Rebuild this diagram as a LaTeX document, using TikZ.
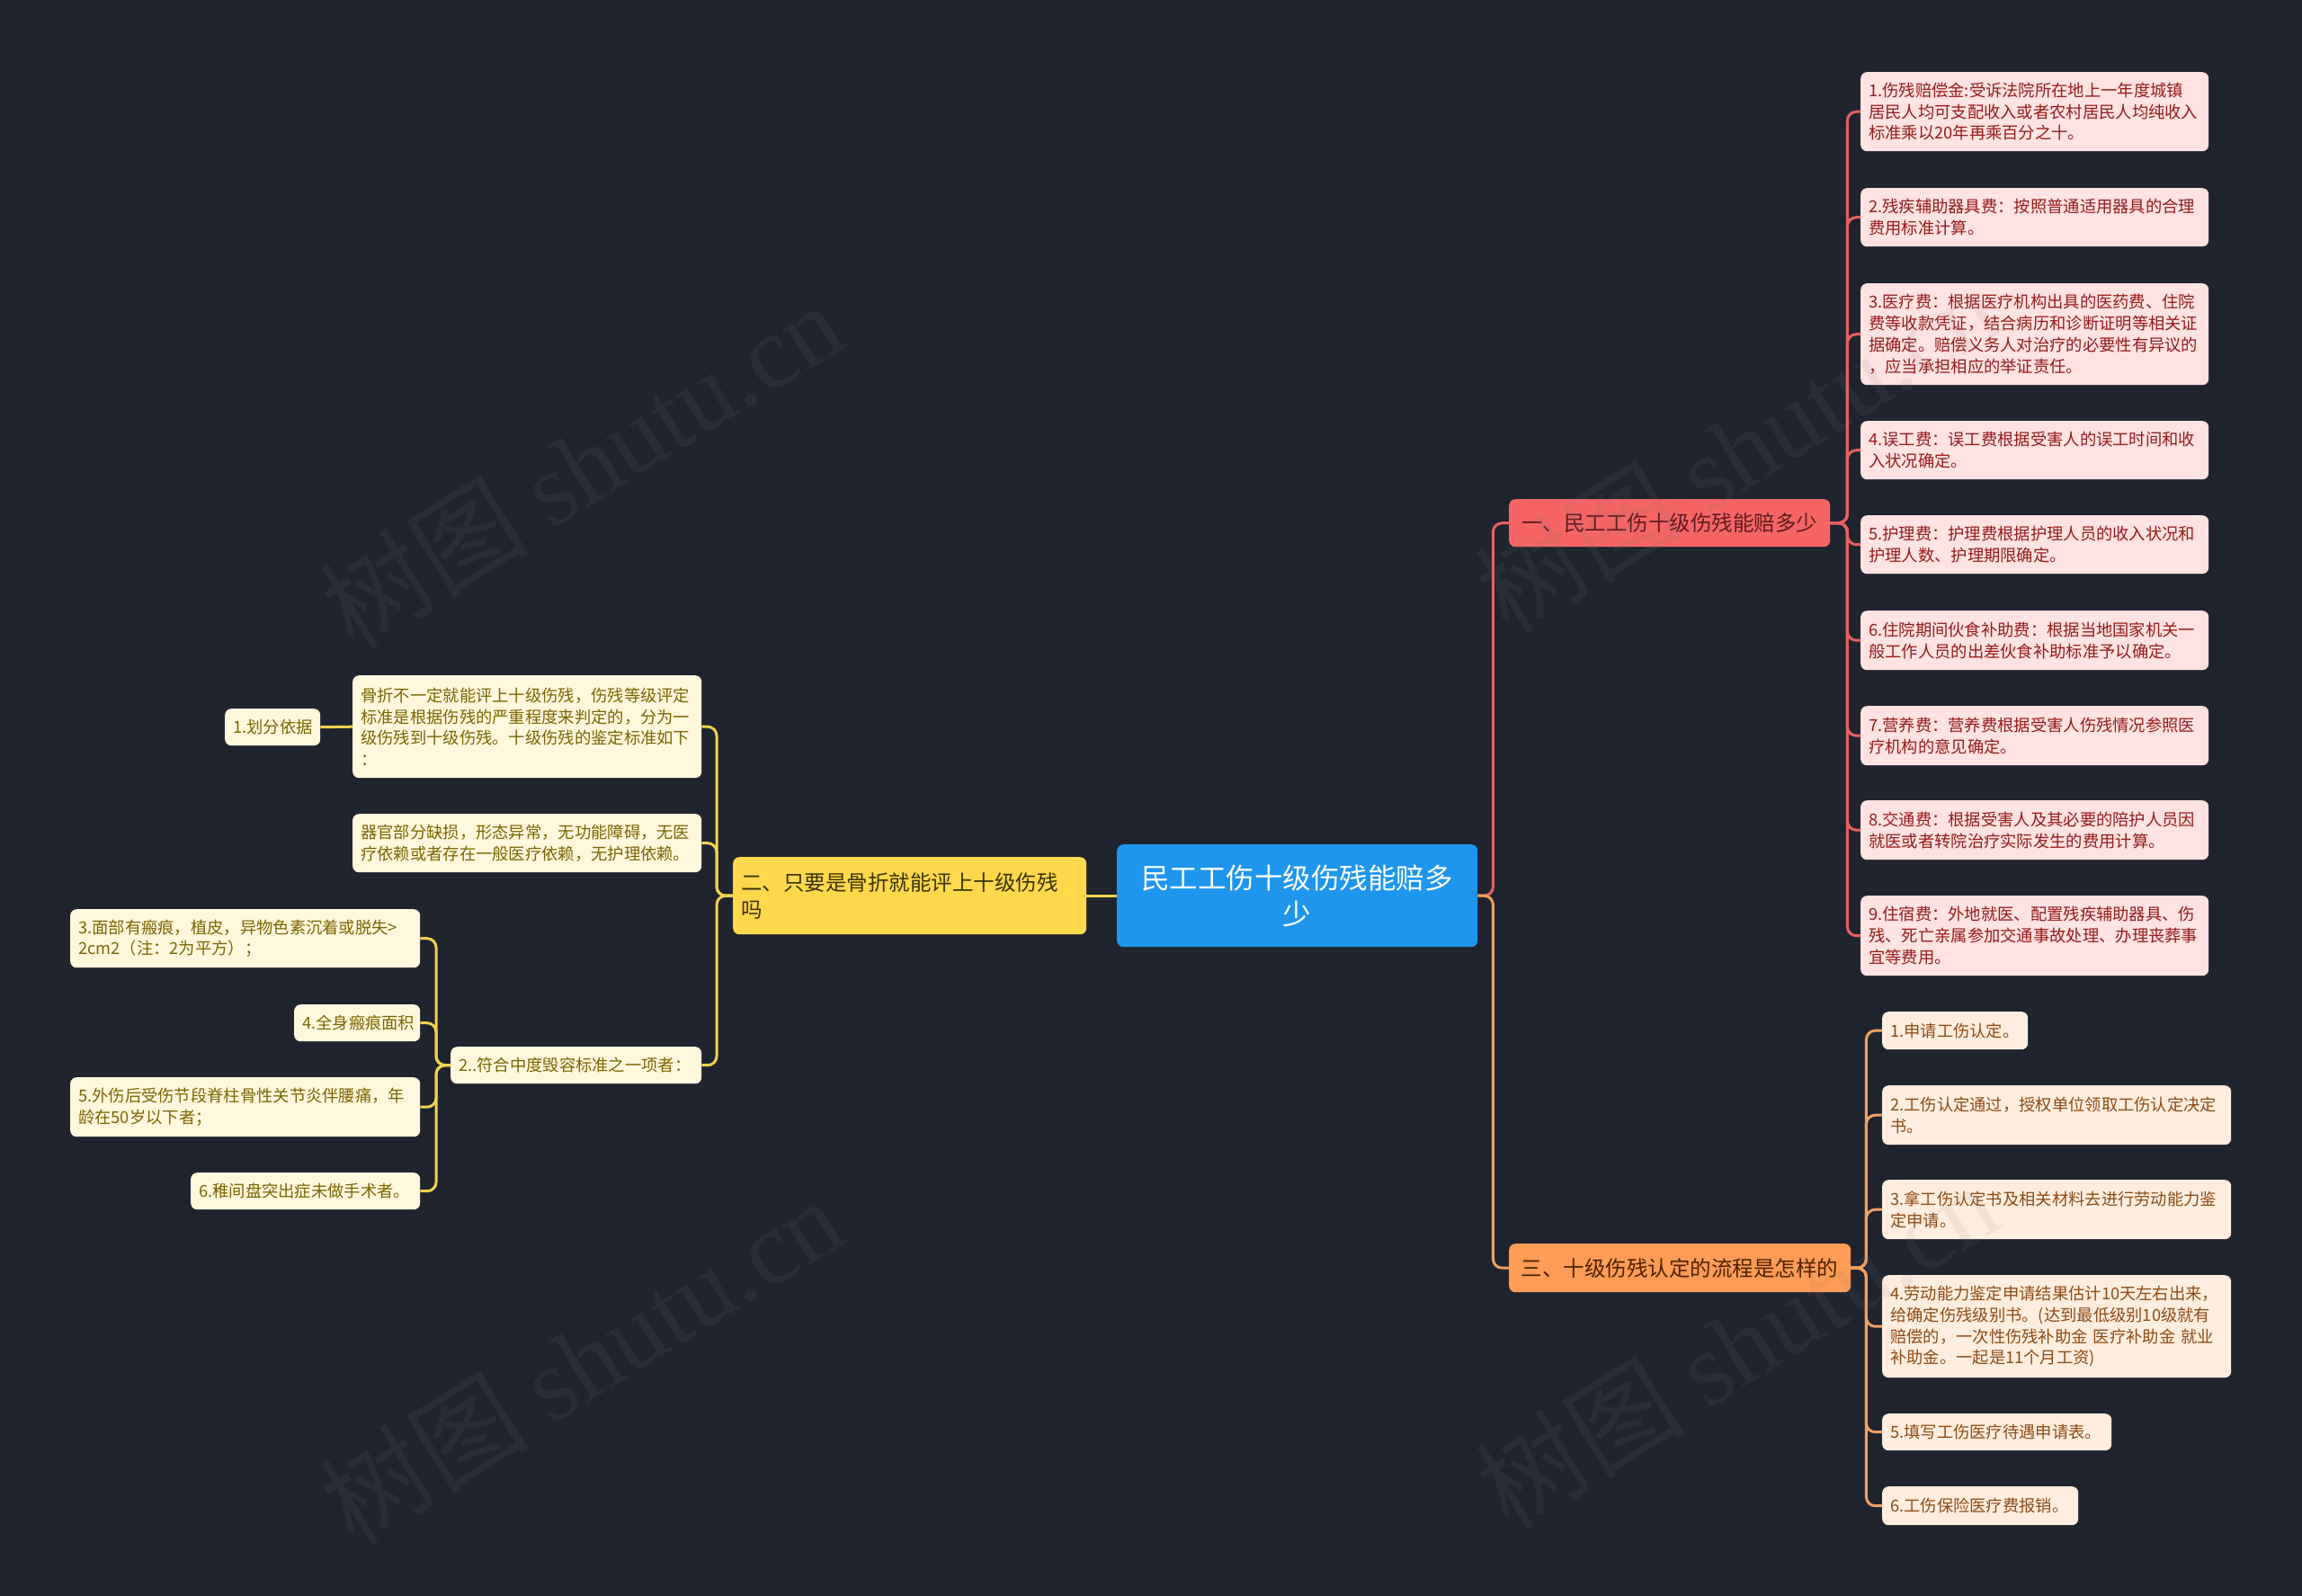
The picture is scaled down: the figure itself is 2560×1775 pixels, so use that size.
\documentclass[tikz,border=0pt]{standalone}
\usepackage{fontspec}
\setmainfont{Noto Sans CJK SC}
\newfontfamily\wmfont{Liberation Serif}
\definecolor{bg}{HTML}{20242F}
\definecolor{rootfill}{HTML}{1E96EE}
\definecolor{bonefill}{HTML}{F66464}
\definecolor{bonetext}{HTML}{5E1B1B}
\definecolor{btwofill}{HTML}{FFD84C}
\definecolor{btwotext}{HTML}{3B3300}
\definecolor{bthreefill}{HTML}{FF9C55}
\definecolor{bthreetext}{HTML}{4A2300}
\definecolor{rleaffill}{HTML}{FFE2E2}
\definecolor{rleaftext}{HTML}{951B1B}
\definecolor{oleaffill}{HTML}{FFEEDF}
\definecolor{oleaftext}{HTML}{8E4A14}
\definecolor{yleaffill}{HTML}{FFF8DC}
\definecolor{yleaftext}{HTML}{7A6500}
\definecolor{rcol}{HTML}{E86060}
\definecolor{ocol}{HTML}{F0A060}
\definecolor{ycol}{HTML}{F2D34E}
\tikzset{
  box/.style={rounded corners=7pt, inner xsep=9pt, inner ysep=0pt, anchor=north west, align=left},
  leaffont/.style={font=\fontsize{18.3}{23.7}\selectfont},
  rleaf/.style={box, leaffont, fill=rleaffill, text=rleaftext},
  oleaf/.style={box, leaffont, fill=oleaffill, text=oleaftext},
  yleaf/.style={box, leaffont, fill=yleaffill, text=yleaftext},
  branchfont/.style={font=\fontsize{23.5}{30}\selectfont},
  rline/.style={draw=rcol, line width=3pt, rounded corners=10pt},
  oline/.style={draw=ocol, line width=3pt, rounded corners=10pt},
  yline/.style={draw=ycol, line width=3pt, rounded corners=10pt},
  wmark/.style={text=gray, opacity=0.1, rotate=31.7, font=\fontsize{116}{120}\selectfont}
}
\begin{document}
\begin{tikzpicture}[x=1pt,y=-1pt]
\useasboundingbox (0,0) rectangle (2560,1775);
\fill[bg] (0,0) rectangle (2560,1775);

% root and branches
\node[box, fill=rootfill, text=white, align=center, text width=383pt, minimum height=114pt,
  font=\fontsize{31.5}{40}\selectfont] (root) at (1242,939) {民工工伤十级伤残能赔多\\少};
\node[box, branchfont, fill=bonefill, text=bonetext, align=center, text width=339pt, minimum height=53pt] (b1) at (1678,555) {一、民工工伤十级伤残能赔多少};
\node[box, branchfont, fill=btwofill, text=btwotext, text width=375pt, minimum height=86pt] (b2) at (815,953) {二、只要是骨折就能评上十级伤残\\吗};
\node[box, branchfont, fill=bthreefill, text=bthreetext, align=center, text width=362pt, minimum height=54pt] (b3) at (1678,1383) {三、十级伤残认定的流程是怎样的};

% red leaves
\node[rleaf, text width=369pt, minimum height=88pt] (r1) at (2069,80) {1.伤残赔偿金:受诉法院所在地上一年度城镇\\居民人均可支配收入或者农村居民人均纯收入\\标准乘以20年再乘百分之十。};
\node[rleaf, text width=369pt, minimum height=65pt] (r2) at (2069,209) {2.残疾辅助器具费：按照普通适用器具的合理\\费用标准计算。};
\node[rleaf, text width=369pt, minimum height=113pt] (r3) at (2069,315) {3.医疗费：根据医疗机构出具的医药费、住院\\费等收款凭证，结合病历和诊断证明等相关证\\据确定。赔偿义务人对治疗的必要性有异议的\\，应当承担相应的举证责任。};
\node[rleaf, text width=369pt, minimum height=65pt] (r4) at (2069,468) {4.误工费：误工费根据受害人的误工时间和收\\入状况确定。};
\node[rleaf, text width=369pt, minimum height=65pt] (r5) at (2069,573) {5.护理费：护理费根据护理人员的收入状况和\\护理人数、护理期限确定。};
\node[rleaf, text width=369pt, minimum height=66pt] (r6) at (2069,679) {6.住院期间伙食补助费：根据当地国家机关一\\般工作人员的出差伙食补助标准予以确定。};
\node[rleaf, text width=369pt, minimum height=66pt] (r7) at (2069,785) {7.营养费：营养费根据受害人伤残情况参照医\\疗机构的意见确定。};
\node[rleaf, text width=369pt, minimum height=66pt] (r8) at (2069,890) {8.交通费：根据受害人及其必要的陪护人员因\\就医或者转院治疗实际发生的费用计算。};
\node[rleaf, text width=369pt, minimum height=89pt] (r9) at (2069,996) {9.住宿费：外地就医、配置残疾辅助器具、伤\\残、死亡亲属参加交通事故处理、办理丧葬事\\宜等费用。};

% orange leaves
\node[oleaf, text width=144pt, minimum height=42pt] (o1) at (2093,1125) {1.申请工伤认定。};
\node[oleaf, text width=370pt, minimum height=66pt] (o2) at (2093,1207) {2.工伤认定通过，授权单位领取工伤认定决定\\书。};
\node[oleaf, text width=370pt, minimum height=66pt] (o3) at (2093,1312) {3.拿工伤认定书及相关材料去进行劳动能力鉴\\定申请。};
\node[oleaf, text width=370pt, minimum height=114pt] (o4) at (2093,1418) {4.劳动能力鉴定申请结果估计10天左右出来，\\给确定伤残级别书。(达到最低级别10级就有\\赔偿的，一次性伤残补助金 医疗补助金 就业\\补助金。一起是11个月工资)};
\node[oleaf, text width=237pt, minimum height=41pt] (o5) at (2093,1572) {5.填写工伤医疗待遇申请表。};
\node[oleaf, text width=200pt, minimum height=43pt] (o6) at (2093,1653) {6.工伤保险医疗费报销。};

% yellow leaves
\node[yleaf, text width=370pt, minimum height=114pt] (ya) at (392,751) {骨折不一定就能评上十级伤残，伤残等级评定\\标准是根据伤残的严重程度来判定的，分为一\\级伤残到十级伤残。十级伤残的鉴定标准如下\\：};
\node[yleaf, text width=370pt, minimum height=65pt] (yb) at (392,905) {器官部分缺损，形态异常，无功能障碍，无医\\疗依赖或者存在一般医疗依赖，无护理依赖。};
\node[yleaf, text width=88pt, minimum height=41pt] (y1) at (250,788) {1.划分依据};
\node[yleaf, text width=261pt, minimum height=41pt] (y2) at (501,1164) {2..符合中度毁容标准之一项者：};
\node[yleaf, text width=371pt, minimum height=65pt] (y3) at (78,1011) {3.面部有瘢痕，植皮，异物色素沉着或脱失>\\2cm2（注：2为平方）；};
\node[yleaf, text width=122pt, minimum height=41pt] (y4) at (327,1117) {4.全身瘢痕面积};
\node[yleaf, text width=371pt, minimum height=66pt] (y5) at (78,1198) {5.外伤后受伤节段脊柱骨性关节炎伴腰痛，年\\龄在50岁以下者；};
\node[yleaf, text width=237pt, minimum height=41pt] (y6) at (212,1304) {6.稚间盘突出症未做手术者。};

% connectors
\draw[rline] (root.east) -- ++(17,0) |- (b1.west);
\draw[oline] (root.east) -- ++(17,0) |- (b3.west);
\draw[yline] (root.west) -- (b2.east);
\foreach \n in {r1,r2,r3,r4,r5,r6,r7,r8,r9}
  \draw[rline] (b1.east) -- ++(19,0) |- (\n.west);
\foreach \n in {o1,o2,o3,o4,o5,o6}
  \draw[oline] (b3.east) -- ++(17,0) |- (\n.west);
\foreach \n in {ya,yb,y2}
  \draw[yline] (b2.west) -- ++(-18,0) |- (\n.east);
\draw[yline] (y1.east) -- (ya.west);
\foreach \n in {y3,y4,y5,y6}
  \draw[yline] (y2.west) -- ++(-16,0) |- (\n.east);

% watermarks
\node[wmark] (w1) at (646,517) {树图 {\wmfont shutu.cn}};
\node[wmark] (w2) at (646,1513) {树图 {\wmfont shutu.cn}};
\node[wmark] (w3) at (1931,500) {树图 {\wmfont shutu.cn}};
\node[wmark] (w4) at (1931,1496) {树图 {\wmfont shutu.cn}};
\end{tikzpicture}
\end{document}
